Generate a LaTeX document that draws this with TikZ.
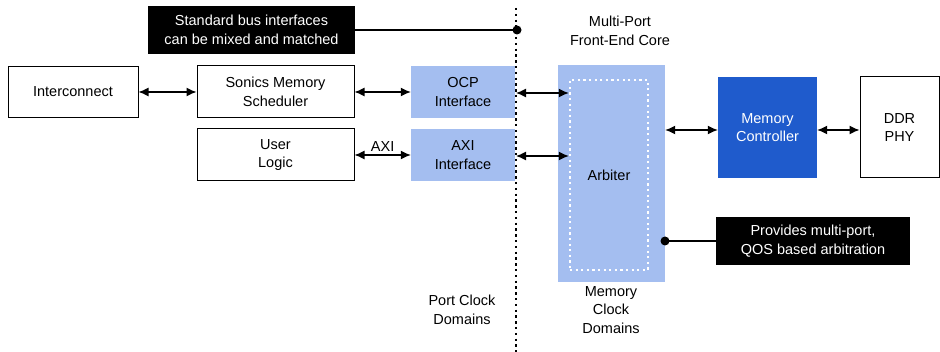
\documentclass[tikz,border=0pt]{standalone}
\usepackage{fontspec}
\setmainfont{Liberation Sans}
\usetikzlibrary{arrows.meta}
\definecolor{lb}{RGB}{164,190,240}
\definecolor{db}{RGB}{31,91,204}
\begin{document}
\begin{tikzpicture}[x=1pt,y=-1pt,
  font=\fontsize{14.5}{18.5}\selectfont,
  wbox/.style={draw, line width=1pt, fill=white, align=center, inner sep=0pt},
  lbox/.style={fill=lb, align=center, inner sep=0pt},
  callout/.style={fill=black, text=white, align=center, inner sep=0pt},
  biarrow/.style={line width=1.3pt, {Latex[length=10pt,width=9pt]}-{Latex[length=10pt,width=9pt]}},
  lead/.style={line width=1.3pt},
  txt/.style={align=center, inner sep=0pt}]
\useasboundingbox (0,0) rectangle (940,352);

% boxes
\node[wbox, minimum width=130pt, minimum height=51pt] (ic) at (73,92) {Interconnect};
\node[wbox, minimum width=157pt, minimum height=52pt] (sms) at (275.5,92) {Sonics Memory\\Scheduler};
\node[wbox, minimum width=157pt, minimum height=52pt] (ul) at (275.5,155) {User\\Logic};
\node[lbox, minimum width=104pt, minimum height=52pt] (ocp) at (463,92) {OCP\\Interface};
\node[lbox, minimum width=104pt, minimum height=52pt] (axi) at (463,155) {AXI\\Interface};
\node[lbox, minimum width=107pt, minimum height=217pt] (arb) at (611.5,173.5) {};
\node[draw=white, line width=2.4pt, dash pattern=on 2.2pt off 3.4pt, minimum width=78pt, minimum height=190pt, inner sep=0pt] (arbin) at (609,175) {Arbiter};
\node[fill=db, text=white, align=center, inner sep=0pt, minimum width=99pt, minimum height=101pt] (mc) at (767.5,127.5) {Memory\\Controller};
\node[wbox, minimum width=79pt, minimum height=101pt] (ddr) at (899.5,127.5) {DDR\\PHY};

% callouts
\node[callout, minimum width=207pt, minimum height=48pt] (std) at (251.5,30) {Standard bus interfaces\\can be mixed and matched};
\node[callout, minimum width=194pt, minimum height=48pt] (prov) at (813,241) {Provides multi-port,\\QOS based arbitration};

% texts
\node[txt] (mpf) at (620,31) {Multi-Port\\Front-End Core};
\node[txt] (pcd) at (462,310) {Port Clock\\Domains};
\node[txt] (mcd) at (611,310) {Memory\\Clock\\Domains};

% dotted boundary
\coordinate (bt) at (516,8);
\coordinate (bb) at (516,352);
\draw[line width=2.8pt, dash pattern=on 2.4pt off 3.4pt] (bt) -- (bb);

% connectors
\draw[biarrow] (ic.east) -- (sms.west);
\draw[biarrow] (sms.east) -- (ocp.west);
\draw[biarrow] (ul.east) -- node[above=3pt, txt] (axil) {AXI} (axi.west);
\coordinate (p1) at (516,93);
\coordinate (p2) at (516,156);
\draw[biarrow] (p1) -- (p1 -| arbin.west);
\draw[biarrow] (p2) -- (p2 -| arbin.west);
\coordinate (m1) at (arb.east |- 0,130);
\draw[biarrow] (m1) -- (m1 -| mc.west);
\draw[biarrow] (mc.east |- m1) -- (ddr.west |- m1);

% callout leads
\coordinate (d1) at (517,30);
\draw[lead] (std.east) -- (d1);
\fill (d1) circle (4.5pt);
\coordinate (d2) at (665,241);
\draw[lead] (prov.west) -- (d2);
\fill (d2) circle (4.5pt);
\end{tikzpicture}
\end{document}
